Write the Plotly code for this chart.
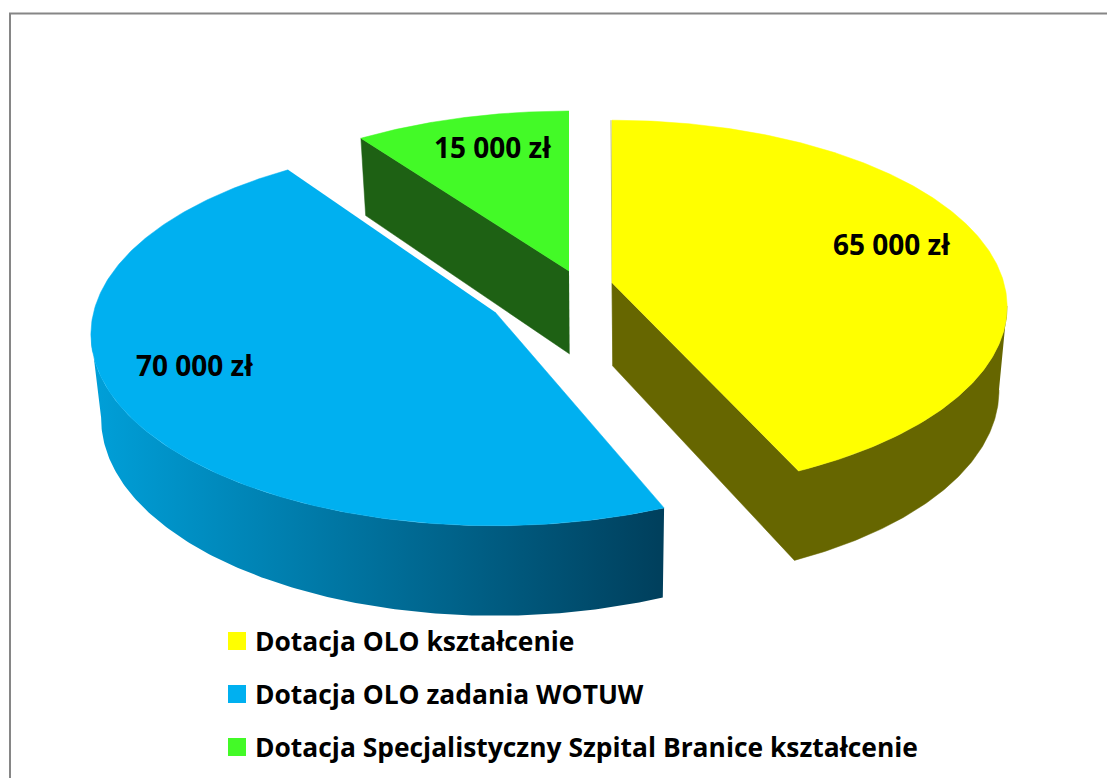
import numpy as np
import plotly.graph_objects as go

# ---- data ----
categories = ["Dotacja OLO kształcenie", "Dotacja OLO zadania WOTUW",
              "Dotacja Specjalistyczny Szpital Branice kształcenie"]
values = [65000, 70000, 15000]
top_colors = ["#FFFF00", "#00B0F0", "#43FA27"]
wall_colors = ["#666600", None, "#1E6114"]

# ---- pseudo-3D pie geometry (pixel space) ----
W, H = 1107, 778
S, D = 395.0, 7.0
tilt = [0.467, 0.47, 0.46]
VX, VM = 600.0, 0.98
apex = [(612, 283), (495, 312), (569, 271)]
arc_centre = [(612, 280), (494, 307), (569, 270)]
arc_scale = [0.99, 1.01, 1.0]
inset = [(0.0, 0.5), (2.3, -0.8), (0.0, 0.0)]

total = sum(values)
edges = np.cumsum([0] + values) / total * 360.0


def rim(i, deg):
    t = np.radians(np.atleast_1d(deg))
    X, Y = np.sin(t), np.cos(t)
    s = S * arc_scale[i] * D / (D + Y)
    return arc_centre[i][0] + X * s, arc_centre[i][1] - Y * s * tilt[i], Y


def drop(x, y, Y):
    return VX + (x - VX) * VM, y + 83 - 7 * Y


def poly(xs, ys, color):
    return go.Scatter(x=xs, y=ys, mode="lines", fill="toself", fillcolor=color,
                      line=dict(width=0.5, color=color), hoverinfo="skip",
                      showlegend=False)


fig = go.Figure()
a0 = [edges[i] + inset[i][0] for i in range(3)]
a1 = [edges[i + 1] - inset[i][1] for i in range(3)]

# yellow walls: outer rim plus cut face, one outline
th = np.linspace(98, a1[0], 120)
x, y, Y = rim(0, th)
xb, yb = drop(x, y, Y)
ax, ay = apex[0]
axb, ayb = drop(ax, ay, 0.0)
axb += 1
fig.add_trace(poly(np.r_[x, ax, axb, xb[::-1]], np.r_[y, ay, ayb, yb[::-1]], wall_colors[0]))
sx, sy, sY = rim(0, a0[0])
fig.add_trace(poly([sx[0] - 1, ax, axb], [sy[0], ay, ayb], wall_colors[0]))

# blue wall with horizontal gradient
th2 = np.linspace(a0[1], 262, 160)
x, y, Y = rim(1, th2)
xb, yb = drop(x, y, Y)
fig.add_trace(go.Scatter(
    x=np.r_[x, xb[::-1]], y=np.r_[y, yb[::-1]], mode="lines", fill="toself",
    line=dict(width=0), hoverinfo="skip", showlegend=False,
    fillgradient=dict(type="horizontal", start=95, stop=664,
                      colorscale=[[0, "#009FD8"], [1, "#003F5C"]])))

# green cut wall
ax, ay = apex[2]
axb, ayb = drop(ax, ay, 0.0)
ex, ey, eY = rim(2, a0[2])
exb, eyb = drop(ex, ey, eY)
fig.add_trace(poly([ax, ex[0], exb[0], axb], [ay, ey[0], eyb[0], ayb], wall_colors[2]))

# top faces
for i in range(3):
    th = np.linspace(a0[i], a1[i], 240)
    x, y, _ = rim(i, th)
    fig.add_trace(poly(np.r_[apex[i][0], x], np.r_[apex[i][1], y], top_colors[i]))

# value labels
label_pos = [(891.5, 244), (194.5, 365), (492, 147)]
for v, (lx, ly) in zip(values, label_pos):
    fig.add_annotation(x=lx, y=ly, text=f"{v:,}".replace(",", " ") + " zł", showarrow=False,
                       font=dict(family="Open Sans", size=28, color="black", weight="bold"),
                       xref="x", yref="y")

# legend
legend_y = [641, 694, 747]
fig.add_trace(go.Scatter(x=[237] * 3, y=legend_y, mode="markers", hoverinfo="skip", showlegend=False,
                         marker=dict(symbol="square", size=18, color=top_colors, line=dict(width=0))))
for name, ly in zip(categories, legend_y):
    fig.add_annotation(x=253, y=ly, text=name, showarrow=False, xanchor="left",
                       font=dict(family="Open Sans", size=26.4, color="black", weight="bold"),
                       xref="x", yref="y")

# frame: only the top and left edges show
fig.add_shape(type="line", x0=9, x1=W, y0=13.5, y1=13.5, xref="x", yref="y",
              line=dict(color="#868686", width=2), layer="below")
fig.add_shape(type="line", x0=10, x1=10, y0=13, y1=H, xref="x", yref="y",
              line=dict(color="#868686", width=2), layer="below")

fig.update_layout(width=W, height=H, margin=dict(l=0, r=0, t=0, b=0),
                  paper_bgcolor="white", plot_bgcolor="white", showlegend=False,
                  xaxis=dict(range=[0, W], visible=False, fixedrange=True),
                  yaxis=dict(range=[H, 0], visible=False, fixedrange=True))
fig.write_html("out.html", config={"displayModeBar": False},
               post_script="document.body.style.margin='0';document.body.style.overflow='hidden';")
